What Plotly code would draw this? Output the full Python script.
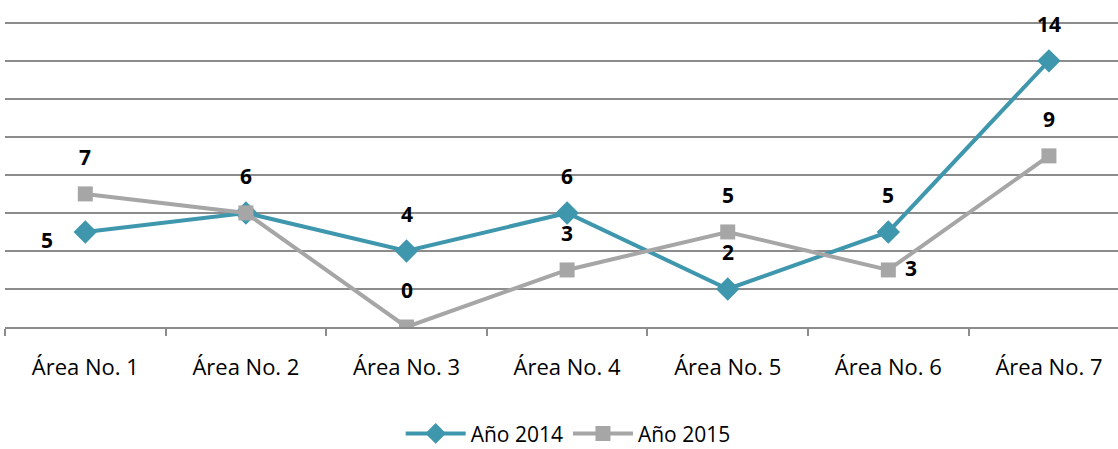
import plotly.graph_objects as go

categories = ["Área No. 1", "Área No. 2", "Área No. 3", "Área No. 4",
              "Área No. 5", "Área No. 6", "Área No. 7"]
values_2014 = [5, 6, 4, 6, 2, 5, 14]
values_2015 = [7, 6, 0, 3, 5, 3, 9]
series_names = ["Año 2014", "Año 2015"]

# label placement per point (style info, not data)
pos_2014 = ["left", None, "top", "top", "top", "top", "top"]
pos_2015 = ["top", "top", "top", "top", "top", "right", "top"]

teal = "#3F97AE"
gray = "#A6A6A6"
font_family = "Open Sans, Noto Sans, sans-serif"

fig = go.Figure()
fig.add_trace(go.Scatter(
    x=categories, y=values_2014, name=series_names[0], mode="lines+markers",
    line=dict(color=teal, width=4),
    marker=dict(symbol="diamond", size=18, color=teal),
))
fig.add_trace(go.Scatter(
    x=categories, y=values_2015, name=series_names[1], mode="lines+markers",
    line=dict(color=gray, width=4),
    marker=dict(symbol="square", size=15, color=gray),
))

def add_labels(vals, positions):
    for cat, v, p in zip(categories, vals, positions):
        if p is None:
            continue
        xs, ys = 0, 0
        if p == "top":
            ys = 37
        elif p == "left":
            xs, ys = -38, -8
        elif p == "right":
            xs, ys = 23, 2
        fig.add_annotation(x=cat, y=v, text=str(v), showarrow=False,
                           xshift=xs, yshift=ys,
                           font=dict(family=font_family, size=21, color="black", weight="bold"))

add_labels(values_2014, pos_2014)
add_labels(values_2015, pos_2015)

fig.update_layout(
    width=1118, height=449,
    margin=dict(l=5, r=0, t=19, b=122, autoexpand=False),
    paper_bgcolor="white", plot_bgcolor="white",
    font=dict(family=font_family, size=22, color="black"),
    showlegend=True,
    legend=dict(orientation="h", x=0.506, xanchor="center", y=-0.28, yanchor="top",
                font=dict(size=21), itemwidth=60, tracegroupgap=0),
    xaxis=dict(
        type="category", range=[-0.5, 6.43], automargin=False,
        showgrid=False, showline=True, linecolor="#8c8c8c", linewidth=1.5,
        ticks="outside", tickson="boundaries", ticklen=7, tickcolor="#8c8c8c", tickwidth=1.5,
        ticklabelstandoff=20, tickfont=dict(size=22),
    ),
    yaxis=dict(
        range=[0, 16.2], dtick=2, showticklabels=False, zeroline=False, automargin=False,
        showgrid=True, gridcolor="#8c8c8c", gridwidth=1.5, showline=False,
    ),
)

fig.write_html("out.html", config={"displayModeBar": False},
               post_script="document.body.style.margin='0';")
